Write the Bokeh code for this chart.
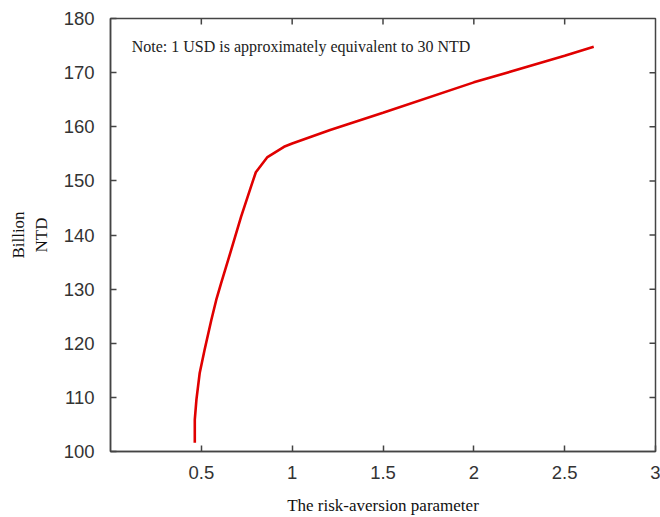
from bokeh.plotting import figure
from bokeh.models import Range1d, FixedTicker, Label
from bokeh.embed import file_html
from bokeh.resources import INLINE

# risk-aversion parameter vs. value (billion NTD)
risk_aversion = [0.464, 0.464, 0.473, 0.491, 0.518, 0.555, 0.582, 0.609, 0.664,
                 0.719, 0.773, 0.80, 0.864, 0.955, 1.0, 1.209, 1.5, 2.0, 2.5, 2.66]
billion_ntd = [101.6, 105.9, 109.6, 114.5, 118.8, 124.3, 128.0, 131.1, 137.2,
               143.4, 148.9, 151.6, 154.4, 156.3, 156.9, 159.4, 162.6, 168.2, 173.1, 174.8]

x_ticks = [0.5, 1, 1.5, 2, 2.5, 3]
y_ticks = [100, 110, 120, 130, 140, 150, 160, 170, 180]
note_text = "Note: 1 USD is approximately equivalent to 30 NTD"

X_MIN, X_MAX, Y_MIN, Y_MAX = 0, 3, 100, 180
FRAME_W, FRAME_H = 545, 434
TICK_PX = 6

p = figure(width=660, height=517, output_backend="svg", toolbar_location=None,
           x_range=Range1d(X_MIN, X_MAX), y_range=Range1d(Y_MIN, Y_MAX),
           min_border_left=110, min_border_right=5, min_border_top=18, min_border_bottom=65,
           background_fill_color="white", border_fill_color="white")

p.grid.visible = False
p.outline_line_color = "#444444"
p.outline_line_width = 1.5

p.line(risk_aversion, billion_ntd, line_color="#e00000", line_width=2.6)

tick_font = "Liberation Sans"
for ax in (p.xaxis[0], p.yaxis[0]):
    ax.axis_line_color = "#444444"
    ax.axis_line_width = 1.5
    ax.major_tick_line_color = "#444444"
    ax.major_tick_line_width = 1.5
    ax.major_tick_in = TICK_PX
    ax.major_tick_out = 0
    ax.minor_tick_line_color = None
    ax.major_label_text_font = tick_font
    ax.major_label_text_font_size = "18.5px"
    ax.major_label_text_color = "#333333"
    ax.axis_label_text_font = "Liberation Serif"
    ax.axis_label_text_font_style = "normal"
    ax.axis_label_text_color = "#111111"

p.xaxis[0].ticker = FixedTicker(ticks=x_ticks)
p.yaxis[0].ticker = FixedTicker(ticks=y_ticks)
p.xaxis[0].major_label_overrides = {0.5: "0.5", 1: "1", 1.5: "1.5", 2: "2", 2.5: "2.5", 3: "3"}
p.xaxis[0].major_label_standoff = 14
p.yaxis[0].major_label_standoff = 16
p.xaxis[0].axis_label = "The risk-aversion parameter"
p.xaxis[0].axis_label_text_font_size = "17px"
p.xaxis[0].axis_label_standoff = 14
p.yaxis[0].axis_label = "Billion\nNTD"
p.yaxis[0].axis_label_text_font_size = "17px"
p.yaxis[0].axis_label_standoff = 10

# inward ticks on the top and right edges of the frame
tick_dy = TICK_PX * (Y_MAX - Y_MIN) / FRAME_H
tick_dx = TICK_PX * (X_MAX - X_MIN) / FRAME_W
top_x = x_ticks[:-1]
p.segment(x0=top_x, y0=[Y_MAX] * len(top_x), x1=top_x, y1=[Y_MAX - tick_dy] * len(top_x),
          line_color="#444444", line_width=1.5)
right_y = y_ticks[1:-1]
p.segment(x0=[X_MAX] * len(right_y), y0=right_y, x1=[X_MAX - tick_dx] * len(right_y), y1=right_y,
          line_color="#444444", line_width=1.5)

p.add_layout(Label(x=0.117, y=174.8, text=note_text, text_font="Liberation Serif",
                   text_font_size="16px", text_color="#222222", text_baseline="middle"))

open("out.html", "w").write(file_html(p, INLINE))
